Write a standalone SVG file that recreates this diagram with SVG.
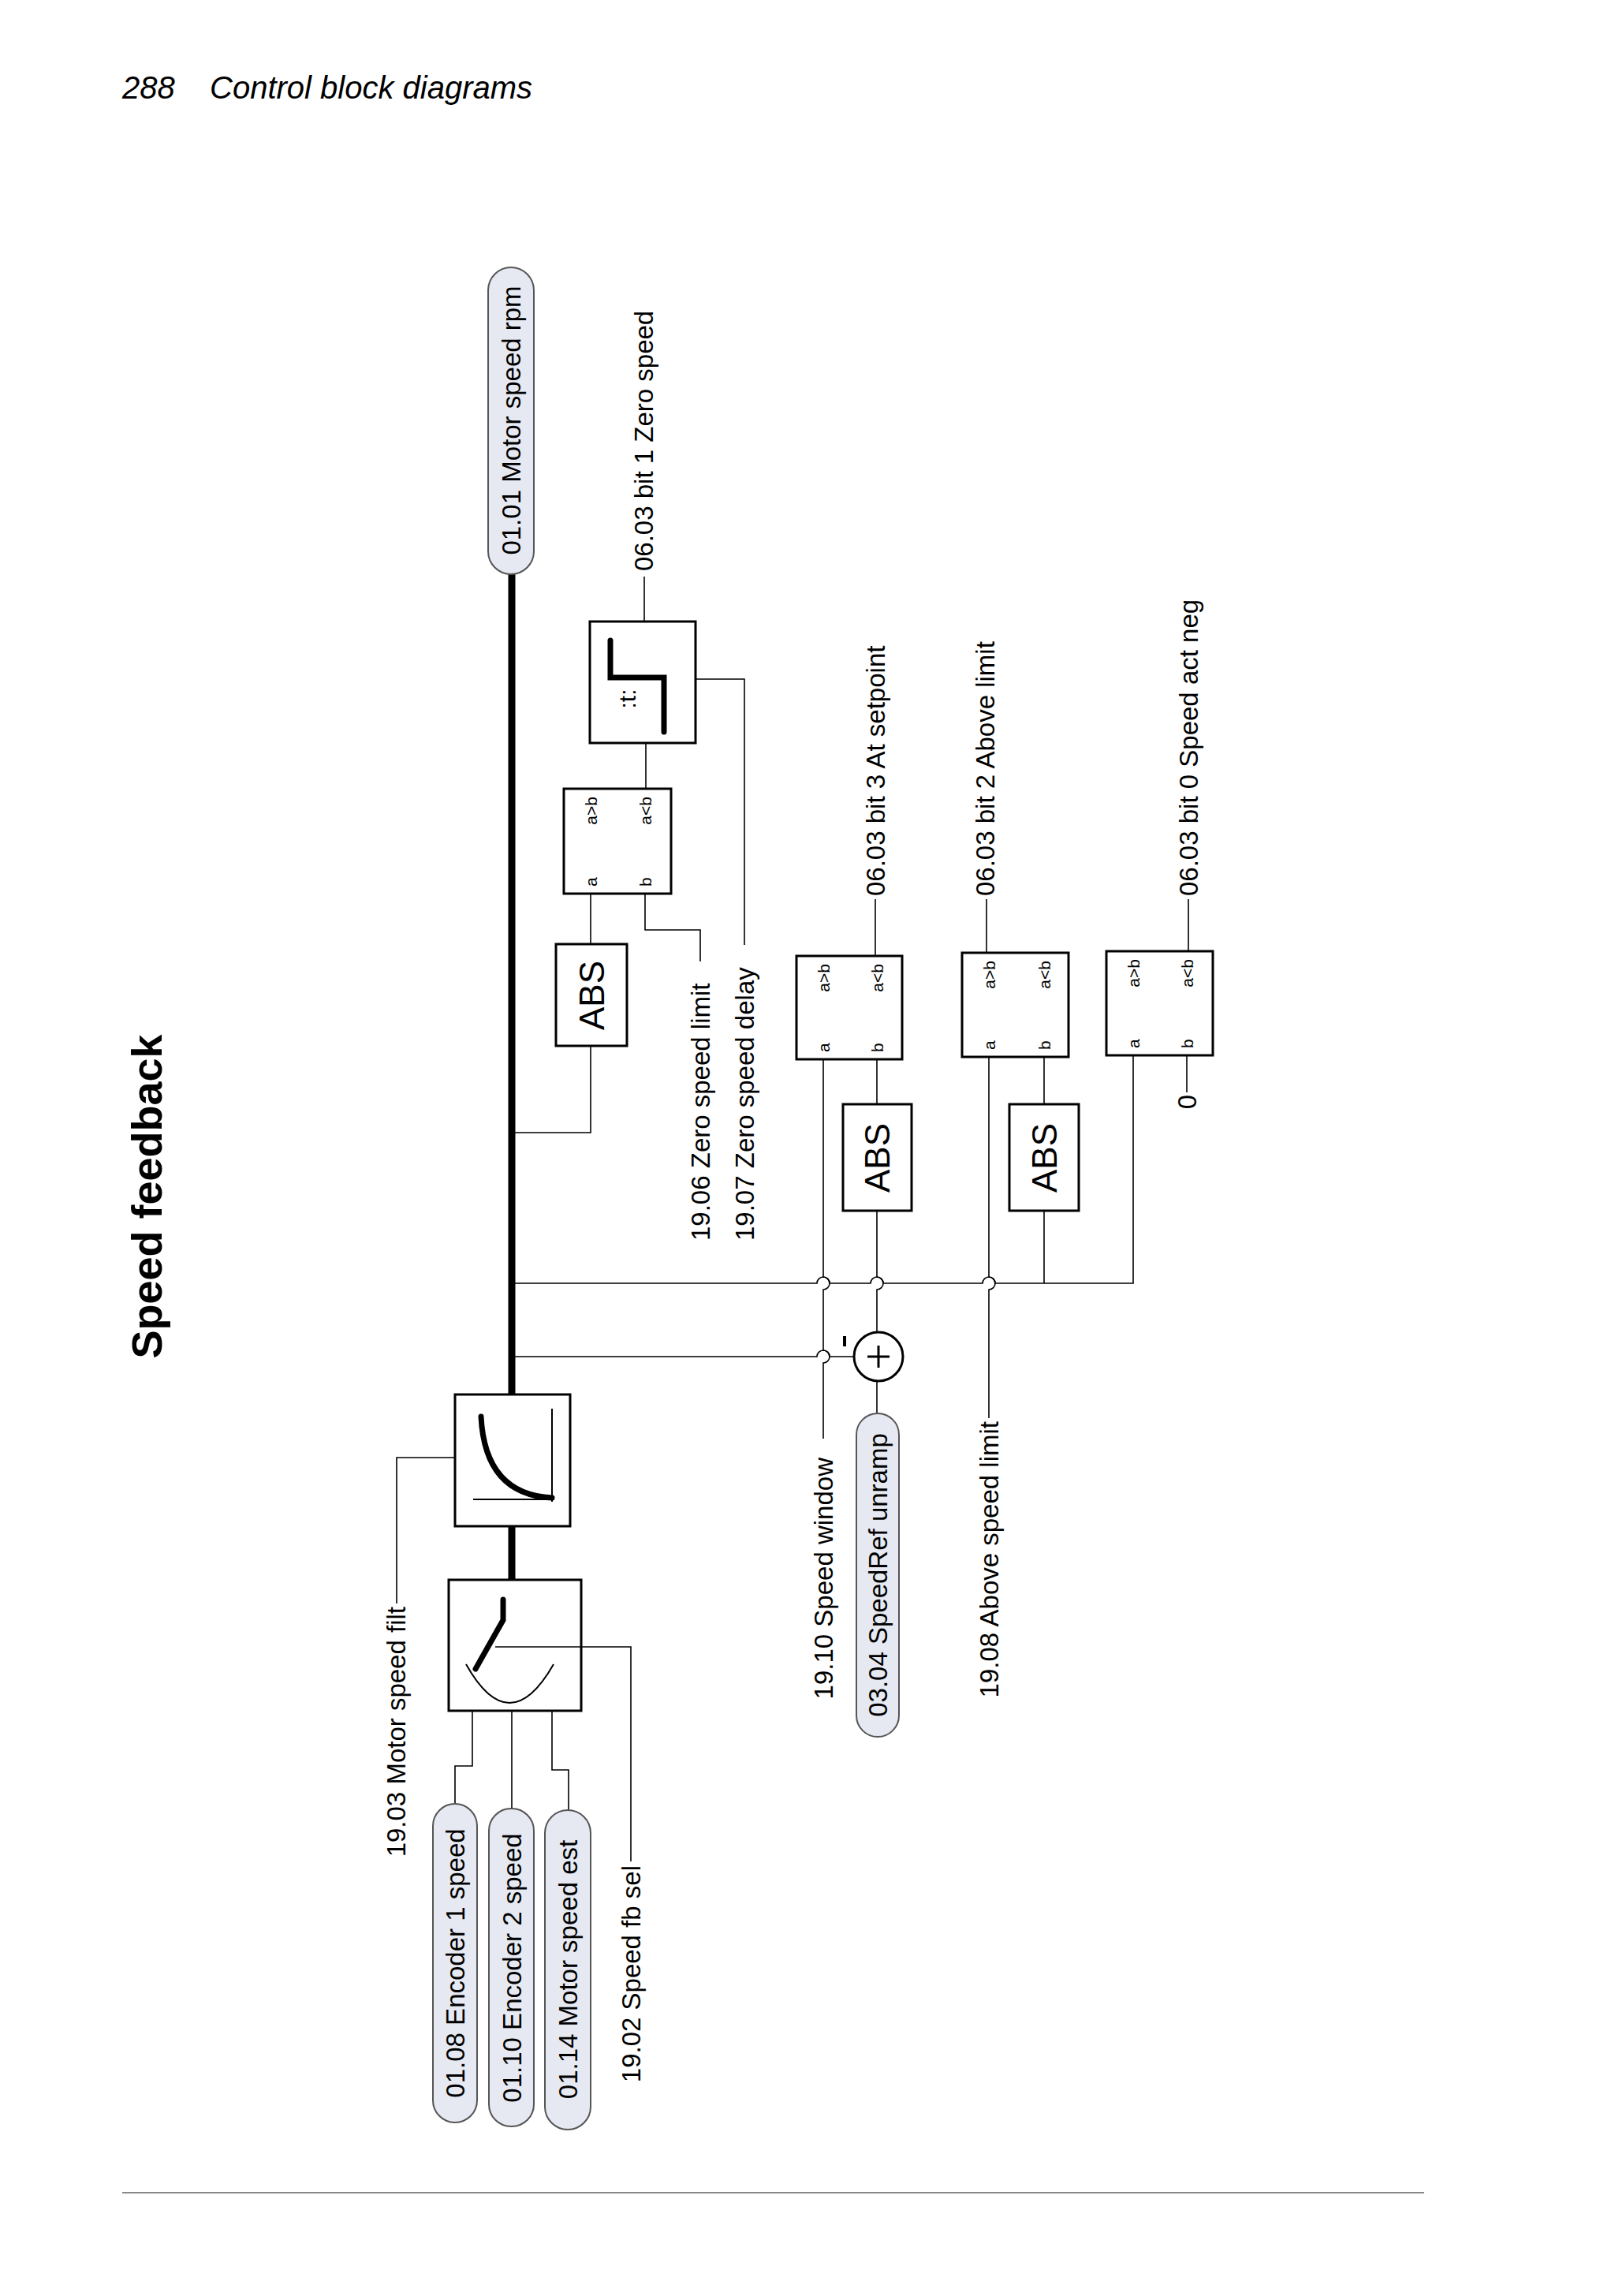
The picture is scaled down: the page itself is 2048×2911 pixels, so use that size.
<svg xmlns="http://www.w3.org/2000/svg" width="2048" height="2911" viewBox="0 0 2048 2911">
<style>
text{font-family:"Liberation Sans",Arial,sans-serif;fill:#000}
.t{font-size:33px}
.s{font-size:21px}
.abs{font-size:44px}
.box{fill:#fff;stroke:#000;stroke-width:3}
.pill{fill:#e6e9f2;stroke:#555;stroke-width:2}
.w{fill:none;stroke:#000;stroke-width:1.6}
.k{fill:none;stroke:#000;stroke-width:9;stroke-linecap:round}
.ic{fill:none;stroke:#000;stroke-width:7;stroke-linecap:round}
</style>
<rect width="2048" height="2911" fill="#fff"/>
<text x="155" y="125" font-size="40" font-style="italic">288</text>
<text x="266" y="125" font-size="40" font-style="italic">Control block diagrams</text>
<text transform="translate(186,1517) rotate(-90)" font-size="54" font-weight="bold" text-anchor="middle" dominant-baseline="central">Speed feedback</text>
<line x1="155" y1="2780" x2="1806" y2="2780" stroke="#888" stroke-width="2"/>

<g id="connectors">
<line class="k" x1="649" y1="728" x2="649" y2="1768"/>
<line class="k" x1="649" y1="1935" x2="649" y2="2003"/>
<path class="w" d="M749 1326V1436H649"/>
<path class="w" d="M749 1197V1133"/>
<path class="w" d="M818 1133V1179H888V1219"/>
<path class="w" d="M819 1000V942"/>
<path class="w" d="M882 861H944V1198"/>
<path class="w" d="M817 788V731"/>
<path class="w" d="M1044 1343V1619A8 8 0 0 1 1044 1635V1712A8 8 0 0 1 1044 1728V1824"/>
<path class="w" d="M1112 1343V1400"/>
<path class="w" d="M1112 1535V1619A8 8 0 0 1 1112 1635V1689"/>
<path class="w" d="M1254 1340V1619A8 8 0 0 1 1254 1635V1798"/>
<path class="w" d="M1324 1340V1400M1324 1535V1627"/>
<path class="w" d="M1437 1338V1627H1262A8 8 0 0 0 1246 1627H1120A8 8 0 0 0 1104 1627H1052A8 8 0 0 0 1036 1627H649"/>
<path class="w" d="M649 1720H1036A8 8 0 0 1 1052 1720H1083"/>
<path class="w" d="M1505 1338V1385"/>
<path class="w" d="M1112 1751V1792"/>
<path class="w" d="M1110 1140V1212M1251 1140V1208M1507 1140V1206"/>
<path class="w" d="M577 1848H503V2033"/>
<path class="w" d="M737 2088H800V2360"/>
<path class="w" d="M599 2169V2239H577V2287"/>
<path class="w" d="M649 2169V2293"/>
<path class="w" d="M700 2169V2244H721V2295"/>
</g>

<g id="out_0101"><rect class="pill" x="619" y="339" width="58" height="389" rx="29"/>
<text class="t" transform="translate(648,533) rotate(-90)" text-anchor="middle" dominant-baseline="central">01.01 Motor speed rpm</text></g>

<g id="timer"><rect class="box" x="748" y="788" width="134" height="154"/>
<path class="ic" d="M774 812V859H842V928"/>
<text transform="translate(795,886) rotate(-90)" font-size="30" text-anchor="middle" dominant-baseline="central">:t:</text></g>
<text class="t" transform="translate(816,724) rotate(-90)" dominant-baseline="central">06.03 bit 1 Zero speed</text>

<g id="cmp1"><rect class="box" x="715" y="1000" width="136" height="133"/>
<text class="s" transform="translate(749,1010) rotate(-90)" text-anchor="end" dominant-baseline="central">a&gt;b</text>
<text class="s" transform="translate(818,1010) rotate(-90)" text-anchor="end" dominant-baseline="central">a&lt;b</text>
<text class="s" transform="translate(749,1124) rotate(-90)" dominant-baseline="central">a</text>
<text class="s" transform="translate(818,1124) rotate(-90)" dominant-baseline="central">b</text></g>

<g id="abs1"><rect class="box" x="705" y="1197" width="90" height="129"/>
<text class="abs" transform="translate(750,1262) rotate(-90)" text-anchor="middle" dominant-baseline="central">ABS</text></g>
<text class="t" transform="translate(888,1573) rotate(-90)" dominant-baseline="central">19.06 Zero speed limit</text>
<text class="t" transform="translate(944,1573) rotate(-90)" dominant-baseline="central">19.07 Zero speed delay</text>

<g id="cmp2"><rect class="box" x="1010" y="1212" width="134" height="131"/>
<text class="s" transform="translate(1044,1222) rotate(-90)" text-anchor="end" dominant-baseline="central">a&gt;b</text>
<text class="s" transform="translate(1112,1222) rotate(-90)" text-anchor="end" dominant-baseline="central">a&lt;b</text>
<text class="s" transform="translate(1044,1334) rotate(-90)" dominant-baseline="central">a</text>
<text class="s" transform="translate(1112,1334) rotate(-90)" dominant-baseline="central">b</text></g>
<text class="t" transform="translate(1110,1136) rotate(-90)" dominant-baseline="central">06.03 bit 3 At setpoint</text>

<g id="cmp3"><rect class="box" x="1220" y="1208" width="135" height="132"/>
<text class="s" transform="translate(1254,1218) rotate(-90)" text-anchor="end" dominant-baseline="central">a&gt;b</text>
<text class="s" transform="translate(1324,1218) rotate(-90)" text-anchor="end" dominant-baseline="central">a&lt;b</text>
<text class="s" transform="translate(1254,1331) rotate(-90)" dominant-baseline="central">a</text>
<text class="s" transform="translate(1324,1331) rotate(-90)" dominant-baseline="central">b</text></g>
<text class="t" transform="translate(1249,1136) rotate(-90)" dominant-baseline="central">06.03 bit 2 Above limit</text>

<g id="cmp4"><rect class="box" x="1403" y="1206" width="135" height="132"/>
<text class="s" transform="translate(1437,1216) rotate(-90)" text-anchor="end" dominant-baseline="central">a&gt;b</text>
<text class="s" transform="translate(1505,1216) rotate(-90)" text-anchor="end" dominant-baseline="central">a&lt;b</text>
<text class="s" transform="translate(1437,1329) rotate(-90)" dominant-baseline="central">a</text>
<text class="s" transform="translate(1505,1329) rotate(-90)" dominant-baseline="central">b</text></g>
<text class="t" transform="translate(1507,1136) rotate(-90)" dominant-baseline="central">06.03 bit 0 Speed act neg</text>
<text class="t" transform="translate(1505,1388) rotate(-90)" text-anchor="end" dominant-baseline="central">0</text>

<g id="abs2"><rect class="box" x="1069" y="1400" width="87" height="135"/>
<text class="abs" transform="translate(1112,1468) rotate(-90)" text-anchor="middle" dominant-baseline="central">ABS</text></g>
<g id="abs3"><rect class="box" x="1280" y="1400" width="88" height="135"/>
<text class="abs" transform="translate(1324,1468) rotate(-90)" text-anchor="middle" dominant-baseline="central">ABS</text></g>

<g id="sum"><circle cx="1114" cy="1720" r="31" fill="#fff" stroke="#000" stroke-width="3"/>
<path d="M1114 1706V1734M1100 1720H1128" stroke="#000" stroke-width="3"/>
<path d="M1071 1694V1707" stroke="#000" stroke-width="4"/></g>

<g id="in_0304"><rect class="pill" x="1086" y="1792" width="54" height="410" rx="27"/>
<text class="t" transform="translate(1113,1997) rotate(-90)" text-anchor="middle" dominant-baseline="central">03.04 SpeedRef unramp</text></g>
<text class="t" transform="translate(1044,1848) rotate(-90)" text-anchor="end" dominant-baseline="central">19.10 Speed window</text>
<text class="t" transform="translate(1254,1802) rotate(-90)" text-anchor="end" dominant-baseline="central">19.08 Above speed limit</text>

<g id="filter"><rect class="box" x="577" y="1768" width="146" height="167"/>
<path class="ic" d="M610 1796Q615 1895 700 1899"/>
<path d="M700 1786V1904M600 1901H702" stroke="#000" stroke-width="2" fill="none"/></g>
<text class="t" transform="translate(502,2037) rotate(-90)" text-anchor="end" dominant-baseline="central">19.03 Motor speed filt</text>

<g id="selector"><rect class="box" x="569" y="2003" width="168" height="166"/>
<path class="ic" d="M638 2028V2054L603 2116"/>
<path d="M591 2110Q646 2208 702 2110" fill="none" stroke="#000" stroke-width="2"/>
<path d="M628 2088H737" stroke="#000" stroke-width="1.6"/></g>
<text class="t" transform="translate(800,2365) rotate(-90)" text-anchor="end" dominant-baseline="central">19.02 Speed fb sel</text>

<g id="in_0108"><rect class="pill" x="549" y="2287" width="56" height="404" rx="28"/>
<text class="t" transform="translate(577,2489) rotate(-90)" text-anchor="middle" dominant-baseline="central">01.08 Encoder 1 speed</text></g>
<g id="in_0110"><rect class="pill" x="620" y="2293" width="57" height="403" rx="28"/>
<text class="t" transform="translate(649,2495) rotate(-90)" text-anchor="middle" dominant-baseline="central">01.10 Encoder 2 speed</text></g>
<g id="in_0114"><rect class="pill" x="691" y="2295" width="58" height="405" rx="29"/>
<text class="t" transform="translate(720,2497) rotate(-90)" text-anchor="middle" dominant-baseline="central">01.14 Motor speed est</text></g>
</svg>
